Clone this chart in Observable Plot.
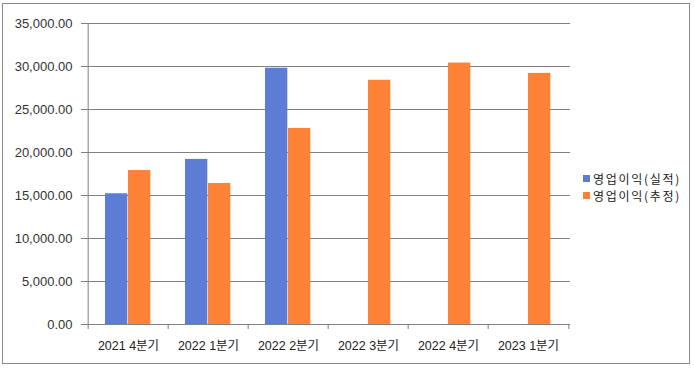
<!DOCTYPE html>
<html>
<head>
<meta charset="utf-8">
<script src="https://cdn.jsdelivr.net/npm/d3@7"></script>
<script src="https://cdn.jsdelivr.net/npm/@observablehq/plot@0.6"></script>
<style>
  html, body { margin: 0; padding: 0; background: #fff; }
  #wrap { position: relative; width: 695px; height: 368px; overflow: hidden; }
  #border { position: absolute; left: 2px; top: 3px; width: 686px; height: 359px; border: 1px solid #8a8a8a; pointer-events: none; }
  #legend { position: absolute; left: 583px; top: 170px; font-family: "Noto Sans CJK KR", sans-serif; font-size: 12px; letter-spacing: 1.7px; color: #222; }
  #legend .item { display: flex; align-items: center; white-space: nowrap; height: 17px; line-height: 15px; }
  #legend .sw { width: 7px; height: 7px; margin-right: 3px; display: inline-block; }
</style>
</head>
<body>
<div id="wrap"><div id="border"></div><div id="legend"></div></div>
<script>
const quarters = ["2021 4분기", "2022 1분기", "2022 2분기", "2022 3분기", "2022 4분기", "2023 1분기"];
const seriesNames = ["영업이익(실적)", "영업이익(추정)"];
const actual = [15200, 19200, 29800, null, null, null];
const estimate = [17900, 16400, 22800, 28400, 30400, 29200];
const yTicks = [0, 5000, 10000, 15000, 20000, 25000, 30000, 35000];
const colors = ["#5b7dd5", "#fd8235"];

const W = 695, H = 368, mL = 86, mR = 125, mT = 23, mB = 44;
const half = (W - mL - mR) / quarters.length / 2;

const actualRows = quarters.map((q, i) => ({q, v: actual[i]})).filter(d => d.v != null);
const estimateRows = quarters.map((q, i) => ({q, v: estimate[i]})).filter(d => d.v != null);

const gray = "#808080";
const plot = Plot.plot({
  width: W, height: H,
  marginLeft: mL, marginRight: mR, marginTop: mT, marginBottom: mB,
  style: {fontFamily: "'Liberation Sans', 'Noto Sans CJK KR', sans-serif", fontSize: "13px", color: "#333", background: "transparent"},
  x: {domain: quarters, padding: 0, label: null},
  y: {domain: [0, 35000], label: null},
  marks: [
    Plot.gridY(yTicks, {stroke: gray, strokeOpacity: 1}),
    Plot.axisY(yTicks, {tickSize: 5, tickPadding: 9, stroke: gray, tickFormat: d3.format(",.2f"), fill: "#333", fontSize: 13, label: null}),
    Plot.ruleX([quarters[0]], {y1: 0, y2: 35000, dx: -half, stroke: gray}),
    Plot.barY(actualRows, {x: "q", y: "v", fill: colors[0], insetLeft: 17, insetRight: 2 * half - 40}),
    Plot.barY(estimateRows, {x: "q", y: "v", fill: colors[1], insetLeft: 40, insetRight: 2 * half - 63}),
    Plot.ruleY([0], {stroke: gray}),
    Plot.ruleX(quarters, {y1: 0, y2: 0, insetBottom: -5, dx: -half, stroke: gray}),
    Plot.ruleX([quarters[quarters.length - 1]], {y1: 0, y2: 0, insetBottom: -5, dx: half, stroke: gray}),
    Plot.axisX({tickSize: 0, tickPadding: 17, fontSize: 12.5, fill: "#222", label: null, style: {letterSpacing: "0.4px"}})
  ]
});
document.getElementById("wrap").prepend(plot);

const legend = document.getElementById("legend");
seriesNames.forEach((name, i) => {
  const item = document.createElement("div");
  item.className = "item";
  const sw = document.createElement("span");
  sw.className = "sw";
  sw.style.background = colors[i];
  item.appendChild(sw);
  item.appendChild(document.createTextNode(name));
  legend.appendChild(item);
});
</script>
</body>
</html>
